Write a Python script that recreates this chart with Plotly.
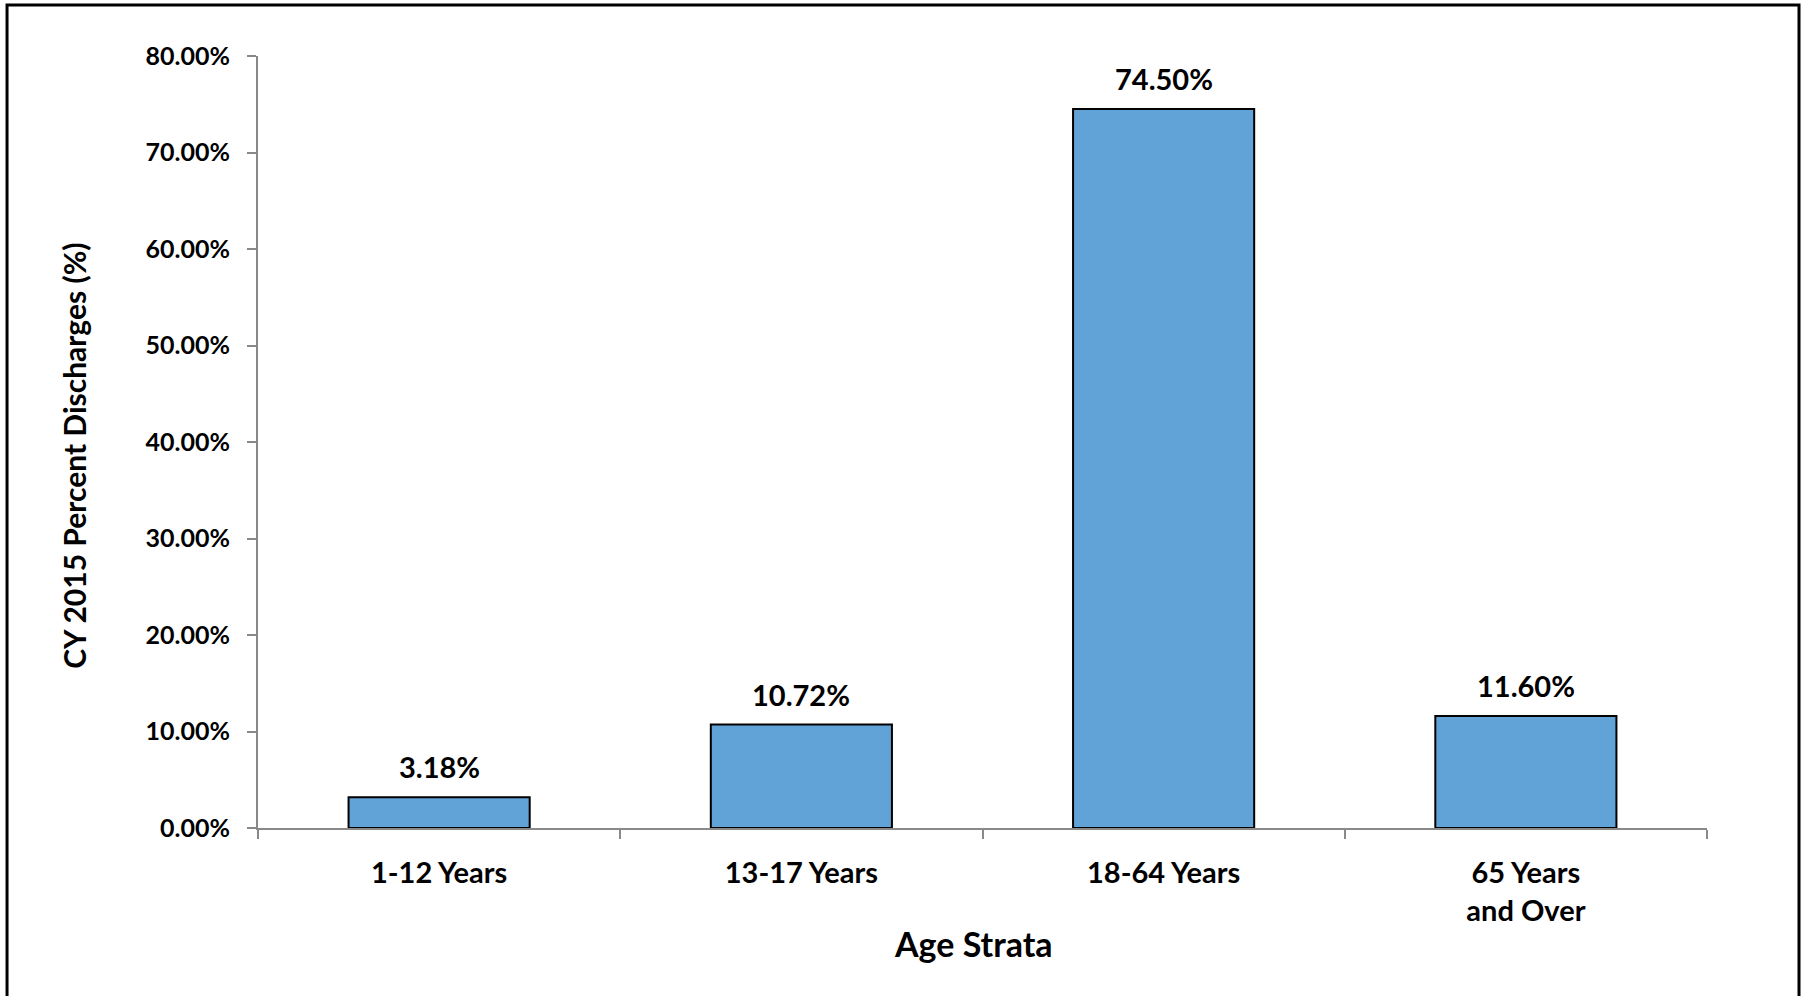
import plotly.graph_objects as go

# Age strata and share of CY 2015 discharges (%)
categories = ["1-12 Years", "13-17 Years", "18-64 Years", "65 Years<br>and Over"]
percent_discharges = [3.18, 10.72, 74.50, 11.60]
y_ticks = [0, 10, 20, 30, 40, 50, 60, 70, 80]
y_tick_labels = [f"{v:.2f}%" for v in y_ticks]

FONT = "Lato, 'Open Sans', Arial, sans-serif"
BAR_BLUE = "#61A2D7"
AXIS_GREY = "#898989"

fig = go.Figure(
    go.Bar(
        x=categories,
        y=percent_discharges,
        marker=dict(color=BAR_BLUE, line=dict(color="black", width=2)),
        width=0.5,
        hoverinfo="skip",
    )
)

# value labels above each bar
for cat, val in zip(categories, percent_discharges):
    fig.add_annotation(
        x=cat, y=val, text=f"{val:.2f}%",
        showarrow=False, yanchor="bottom", yshift=11,
        font=dict(family=FONT, size=29, color="black", weight="bold"),
    )

# axis titles
fig.add_annotation(
    xref="paper", yref="paper", x=-0.127, y=0.482,
    text="CY 2015 Percent Discharges (%)", textangle=-90,
    showarrow=False, xanchor="center", yanchor="middle",
    font=dict(family=FONT, size=30, color="black", weight="bold"),
)
fig.add_annotation(
    xref="paper", yref="paper", x=0.4938, y=-0.149,
    text="Age Strata",
    showarrow=False, xanchor="center", yanchor="middle",
    font=dict(family=FONT, size=34, color="black", weight="bold"),
)

# outer chart frame
fig.add_shape(
    type="rect", xref="paper", yref="paper",
    x0=-0.1732, x1=1.0635, y0=-0.25, y1=1.066,
    line=dict(color="black", width=3), fillcolor="rgba(0,0,0,0)",
    layer="below",
)

fig.update_layout(
    width=1805, height=996,
    margin=dict(l=258, r=98, t=56, b=168),
    paper_bgcolor="white", plot_bgcolor="white",
    showlegend=False,
    font=dict(family=FONT, size=22, color="black"),
    xaxis=dict(
        showline=True, linecolor=AXIS_GREY, linewidth=2,
        ticks="outside", tickson="boundaries", ticklen=9,
        tickcolor=AXIS_GREY, tickwidth=2,
        ticklabelstandoff=18,
        tickfont=dict(family=FONT, size=29, color="black", weight="bold"),
        showgrid=False, zeroline=False,
    ),
    yaxis=dict(
        range=[0, 80], tickmode="array",
        tickvals=y_ticks, ticktext=y_tick_labels,
        showline=True, linecolor=AXIS_GREY, linewidth=2,
        ticks="outside", ticklen=9, tickcolor=AXIS_GREY, tickwidth=2,
        ticklabelstandoff=12,
        tickfont=dict(family=FONT, size=25, color="black", weight="bold"),
        showgrid=False, zeroline=False,
    ),
)

fig.write_html("out.html")
